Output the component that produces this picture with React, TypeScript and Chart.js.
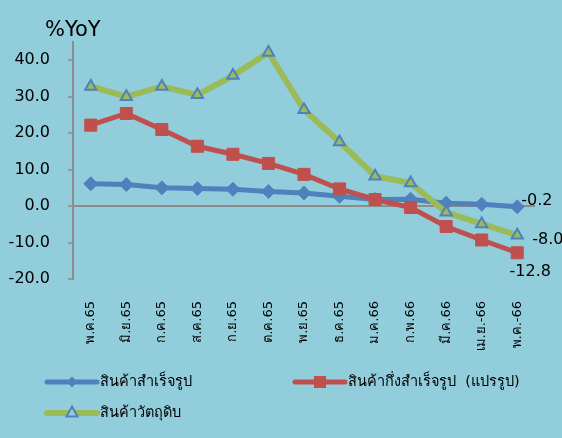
import React, { useEffect, useRef } from 'react';
import { Chart, registerables } from 'chart.js';
Chart.register(...registerables);

const categories = ['พ.ค.65', 'มิ.ย.65', 'ก.ค.65', 'ส.ค.65', 'ก.ย.65', 'ต.ค.65', 'พ.ย.65', 'ธ.ค.65', 'ม.ค.66', 'ก.พ.66', 'มี.ค.66', 'เม.ย.-66', 'พ.ค.-66'];
const finishedGoods = [6.1, 5.9, 5.0, 4.8, 4.6, 4.0, 3.6, 2.7, 1.8, 1.9, 0.8, 0.5, -0.2];
const semiFinished = [22.2, 25.4, 21.0, 16.4, 14.2, 11.7, 8.7, 4.7, 1.8, -0.4, -5.6, -9.3, -12.8];
const rawMaterials = [32.8, 30.0, 32.8, 30.5, 35.8, 42.1, 26.4, 17.6, 8.2, 6.3, -1.7, -4.9, -8.0];
const seriesNames = ['สินค้าสำเร็จรูป', 'สินค้ากึ่งสำเร็จรูป  (แปรรูป)', 'สินค้าวัตถุดิบ'];
const yTitle = '%YoY';
const yMin = -20;
const yMax = 45;

const BG = '#92CDDC';
const BLUE = '#4F81BD';
const RED = '#C0504D';
const GREEN = '#9BBB59';
const AXIS = '#8C8C8C';
const FONT = "'DejaVu Sans', sans-serif";

const overlay = {
  id: 'overlay',
  afterDatasetsDraw(chart: any) {
    const ctx = chart.ctx;
    ctx.save();
    ctx.fillStyle = '#000';
    ctx.font = `16px ${FONT}`;
    ctx.textBaseline = 'middle';
    ctx.textAlign = 'left';
    const last = categories.length - 1;
    const b = chart.getDatasetMeta(0).data[last];
    const r = chart.getDatasetMeta(1).data[last];
    const g = chart.getDatasetMeta(2).data[last];
    ctx.fillText(finishedGoods[last].toFixed(1), b.x + 4, b.y - 6);
    ctx.fillText(rawMaterials[last].toFixed(1), g.x + 15, g.y + 5);
    ctx.textAlign = 'center';
    ctx.fillText(semiFinished[last].toFixed(1), r.x + 13, r.y + 19);
    ctx.restore();
  },
  afterDraw(chart: any) {
    const ctx = chart.ctx;
    ctx.save();
    ctx.fillStyle = '#000';
    ctx.font = `21px ${FONT}`;
    ctx.textBaseline = 'middle';
    ctx.textAlign = 'left';
    ctx.fillText(yTitle, 45, 31);

    const item = (x1: number, y: number, color: string, lw: number, marker: string, text: string) => {
      ctx.save();
      ctx.strokeStyle = color;
      ctx.lineWidth = lw;
      ctx.lineCap = 'round';
      ctx.beginPath();
      ctx.moveTo(x1, y);
      ctx.lineTo(x1 + 50, y);
      ctx.stroke();
      const cx = x1 + 25;
      if (marker === 'diamond') {
        ctx.fillStyle = BLUE;
        ctx.beginPath();
        ctx.moveTo(cx, y - 5.5);
        ctx.lineTo(cx + 5.5, y);
        ctx.lineTo(cx, y + 5.5);
        ctx.lineTo(cx - 5.5, y);
        ctx.closePath();
        ctx.fill();
      } else if (marker === 'square') {
        ctx.fillStyle = RED;
        ctx.fillRect(cx - 6, y - 6, 12, 12);
      } else {
        ctx.fillStyle = BG;
        ctx.strokeStyle = BLUE;
        ctx.lineWidth = 2;
        ctx.lineCap = 'butt';
        ctx.beginPath();
        ctx.moveTo(cx, y - 6.5);
        ctx.lineTo(cx + 5.5, y + 3.5);
        ctx.lineTo(cx - 5.5, y + 3.5);
        ctx.closePath();
        ctx.fill();
        ctx.stroke();
      }
      ctx.fillStyle = '#000';
      ctx.font = `14.5px ${FONT}`;
      ctx.textAlign = 'left';
      ctx.textBaseline = 'middle';
      ctx.fillText(text, x1 + 53, y);
      ctx.restore();
    };
    item(47, 382, BLUE, 5, 'diamond', seriesNames[0]);
    item(295, 382, RED, 5, 'square', seriesNames[1]);
    item(47, 413, GREEN, 6, 'triangle', seriesNames[2]);
    ctx.restore();
  },
};

export default function App() {
  const ref = useRef<HTMLCanvasElement>(null);
  useEffect(() => {
    document.body.style.margin = '0';
    document.body.style.background = BG;
    const chart = new Chart(ref.current!, {
      type: 'line',
      data: {
        labels: categories,
        datasets: [
          {
            label: seriesNames[0],
            data: finishedGoods,
            borderColor: BLUE,
            backgroundColor: BLUE,
            borderWidth: 5,
            pointStyle: 'rectRot',
            pointRadius: 7,
            pointBorderWidth: 1,
            pointBackgroundColor: BLUE,
            pointBorderColor: BLUE,
            tension: 0,
            order: 3,
          },
          {
            label: seriesNames[1],
            data: semiFinished,
            borderColor: RED,
            backgroundColor: RED,
            borderWidth: 5,
            pointStyle: 'rect',
            pointRadius: 8.5,
            pointBorderWidth: 1,
            pointBackgroundColor: RED,
            pointBorderColor: RED,
            tension: 0,
            order: 2,
          },
          {
            label: seriesNames[2],
            data: rawMaterials,
            borderColor: GREEN,
            backgroundColor: GREEN,
            borderWidth: 6,
            pointStyle: 'triangle',
            pointRadius: 6.5,
            pointBorderWidth: 2,
            pointBackgroundColor: GREEN,
            pointBorderColor: BLUE,
            tension: 0,
            order: 1,
          },
        ],
      },
      options: {
        responsive: false,
        animation: false,
        devicePixelRatio: 1,
        layout: { padding: { top: 42, right: 27, bottom: 69, left: 0 } },
        plugins: {
          legend: { display: false },
          tooltip: { enabled: false },
          title: { display: false },
        },
        scales: {
          x: {
            offset: true,
            grid: { display: false, offset: true },
            border: { display: false },
            ticks: {
              autoSkip: false,
              minRotation: 90,
              maxRotation: 90,
              padding: 14,
              color: '#000',
              font: { family: FONT, size: 13 },
            },
            afterFit: (s: any) => {
              s.height = 90;
            },
          },
          y: {
            min: yMin,
            max: yMax,
            border: { display: true, color: AXIS, width: 2 },
            grid: {
              color: (c: any) => (c.tick && c.tick.value === 0 ? AXIS : 'rgba(0,0,0,0)'),
              lineWidth: 2,
              tickColor: AXIS,
              tickWidth: 1.5,
              tickLength: 5,
              drawTicks: true,
            },
            ticks: {
              stepSize: 5,
              padding: 18,
              color: '#000',
              font: { family: FONT, size: 16 },
              callback: (v: any) => (Number(v) % 10 === 0 ? Number(v).toFixed(1) : ''),
            },
            afterFit: (s: any) => {
              s.width = 73;
            },
          },
        },
      },
      plugins: [overlay],
    });
    return () => chart.destroy();
  }, []);
  return (
    <div style={{ width: 562, height: 438, background: BG }}>
      <canvas ref={ref} width={562} height={438} style={{ display: 'block' }} />
    </div>
  );
}
